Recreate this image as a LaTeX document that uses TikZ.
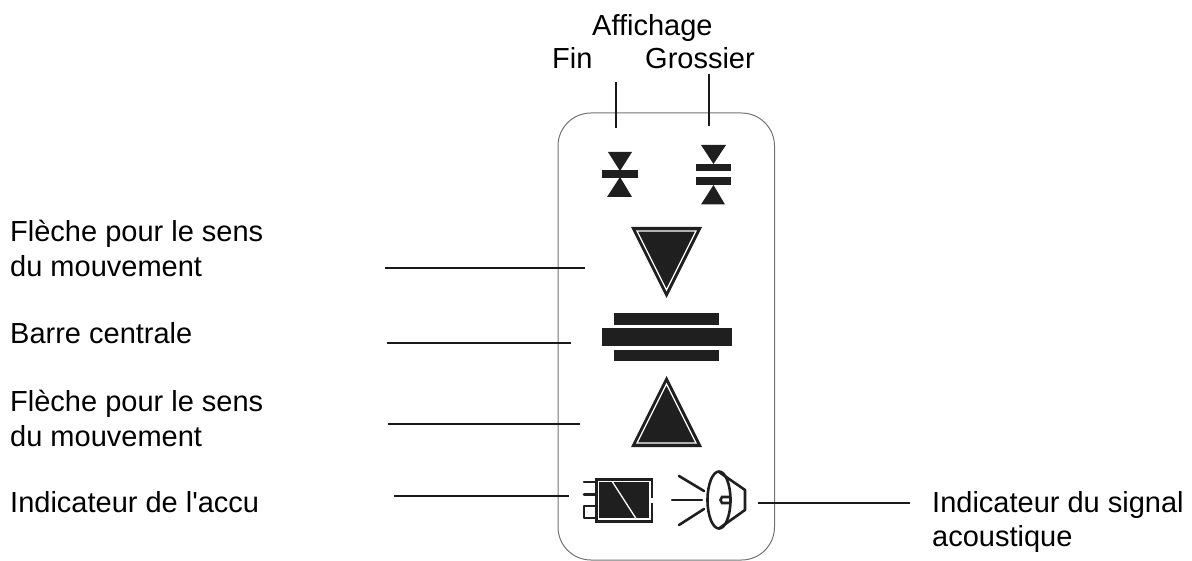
\documentclass[tikz,border=0pt]{standalone}
\usepackage{fontspec}
\setmainfont{Liberation Sans}
\usepackage{tikz}
\usetikzlibrary{positioning,calc}
\tikzset{
  txt/.style={anchor=base west,inner sep=0pt,font=\fontsize{29}{29}\selectfont},
  leader/.style={line width=1.5pt,black!90},
  glyph/.style={fill=black!88,draw=none},
  thin glyph/.style={draw=black!88,line width=2.6pt,line cap=round},
  gap/.style={draw=white,line width=1.3pt}
}
\begin{document}
\begin{tikzpicture}[x=1pt,y=-1pt]
  \useasboundingbox (0,0) rectangle (1192,561);
  % Housing
  \draw[black!55,line width=1pt,rounded corners=33pt] (558,113) rectangle (774.5,560);
  % Top labels
  \node[txt] (disp) at (592,36) {Affichage};
  \node[txt] (fin) at (552,69) {Fin};
  \node[txt] (gros) at (645,69) {Grossier};
  % Left labels
  \node[txt] (flecha) at (10,242) {Flèche pour le sens};
  \node[txt] (mouva) at (10,277) {du mouvement};
  \node[txt] (barre) at (10,344) {Barre centrale};
  \node[txt] (flechb) at (10,411) {Flèche pour le sens};
  \node[txt] (mouvb) at (10,446) {du mouvement};
  \node[txt] (accu) at (10,512) {Indicateur de l\textquotesingle accu};
  % Right labels
  \node[txt] (signal) at (932,512) {Indicateur du signal};
  \node[txt] (acou) at (932,546) {acoustique};
  % Leader ends
  \coordinate (finA) at (616,82);
  \coordinate (finB) at (616,128);
  \coordinate (grosA) at (709,74);
  \coordinate (grosB) at (709,126);
  \coordinate (flechaA) at (385,268);
  \coordinate (flechaB) at (585,268);
  \coordinate (barreA) at (387,343);
  \coordinate (barreB) at (571,343);
  \coordinate (flechbA) at (388,424);
  \coordinate (flechbB) at (580,424);
  \coordinate (accuA) at (394,496);
  \coordinate (accuB) at (569,496);
  \coordinate (signalA) at (758,503);
  \coordinate (signalB) at (910,503);
  % Leaders
  \draw[leader] (finA) -- (finB);
  \draw[leader] (grosA) -- (grosB);
  \draw[leader] (flechaA) -- (flechaB);
  \draw[leader] (barreA) -- (barreB);
  \draw[leader] (flechbA) -- (flechbB);
  \draw[leader] (accuA) -- (accuB);
  \draw[leader] (signalA) -- (signalB);
  % Fine display symbol
  \fill[glyph] (608,152) -- (632,152) -- (620,171) -- cycle;
  \fill[glyph] (601.5,170.5) rectangle (637.5,178);
  \fill[glyph] (620,177) -- (632,197) -- (607,197) -- cycle;
  % Coarse display symbol
  \fill[glyph] (701,145) -- (726,145) -- (713.5,164) -- cycle;
  \fill[glyph] (695.5,164) rectangle (731,171);
  \fill[glyph] (695.5,177) rectangle (731,185.5);
  \fill[glyph] (713.5,185) -- (725,204.5) -- (701,204.5) -- cycle;
  % Direction arrow, down
  \fill[glyph] (631,227) -- (702,227) -- (666.5,298) -- cycle;
  \draw[gap] (637,231) -- (696,231) -- (666.5,290) -- cycle;
  % Centre bar
  \fill[glyph] (614,313.5) rectangle (719,325);
  \fill[glyph] (601.5,328.5) rectangle (731.5,346);
  \fill[glyph] (614,350) rectangle (719,361);
  % Direction arrow, up
  \fill[glyph] (666.5,376) -- (702,447) -- (631,447) -- cycle;
  \draw[gap] (666.5,384) -- (696,443) -- (637,443) -- cycle;
  % Battery
  \fill[glyph] (595,478) rectangle (653,522.5);
  \draw[gap] (598.5,481.5) rectangle (650,519);
  \draw[white,line width=1.3pt] (612.5,482) -- (636,518.5);
  \fill[white] (650.5,498) rectangle (653.5,503);
  \draw[thin glyph] (584,482) -- (595,482);
  \draw[thin glyph] (584,494.5) -- (595,494.5);
  \draw[thin glyph,line join=round] (595,506) -- (584,506) -- (584,518) -- (595,518);
  % Beeper
  \draw[thin glyph] (719,500) ellipse (11.5 and 28.5);
  \draw[thin glyph,line join=round] (719,472) -- (745,490) -- (745,510) -- (719,528.5);
  \draw[thin glyph] (730,497) -- (722,497) -- (720.5,500) -- (722,503) -- (730,503);
  \draw[thin glyph] (679,476) -- (704,491);
  \draw[thin glyph] (672,500) -- (702,500);
  \draw[thin glyph] (679,525) -- (704,509);
\end{tikzpicture}
\end{document}
